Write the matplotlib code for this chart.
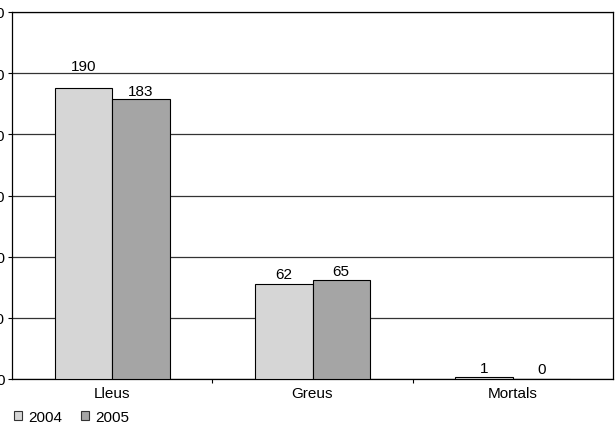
import numpy as np
import matplotlib.pyplot as plt
from matplotlib.patches import Patch

plt.rcParams['font.family'] = ['Liberation Sans', 'DejaVu Sans']

categories = ['Lleus', 'Greus', 'Mortals']
anys = ['2004', '2005']
valors2004 = [190, 62, 1]
valors2005 = [183, 65, 0]
yticks = [0, 40, 80, 120, 160, 200, 240]

colors = ['#d6d6d6', '#a5a5a5']
# desplaçament de les etiquetes (punts) sobre cada barra
offsets2004 = [11, 2, 2]
offsets2005 = [1, 1, 2]

fig = plt.figure(figsize=(6.15, 4.27), dpi=100)
ax = fig.add_axes([12/615, 47/427, 601/615, 367/427])

x = np.arange(len(categories))
ample = 0.287
b1 = ax.bar(x - ample/2, valors2004, ample, color=colors[0], edgecolor='black', linewidth=0.8, zorder=3)
b2 = ax.bar(x + ample/2, valors2005, ample, color=colors[1], edgecolor='black', linewidth=0.8, zorder=3)

for barres, valors, offs in [(b1, valors2004, offsets2004), (b2, valors2005, offsets2005)]:
    for rect, v, off in zip(barres, valors, offs):
        ax.annotate(str(v), (rect.get_x() + rect.get_width()/2, v),
                    xytext=(0, off), textcoords='offset points',
                    ha='center', va='bottom', fontsize=11)

ax.set_xlim(-0.5, 2.5)
ax.set_ylim(0, 240)
ax.set_yticks(yticks)
ax.set_yticklabels([str(t) for t in yticks], fontsize=11)
ax.yaxis.grid(True, color='#333333', linewidth=0.9, zorder=0)
ax.set_axisbelow(True)

ax.set_xticks(x)
ax.set_xticklabels(categories, fontsize=11)
ax.set_xticks([0.5, 1.5], minor=True)
ax.tick_params(axis='x', which='major', length=0, pad=5)
ax.tick_params(axis='x', which='minor', length=3, width=0.8)
ax.tick_params(axis='y', length=3, width=0.8, pad=2)

for s in ax.spines.values():
    s.set_color('black')
    s.set_linewidth(0.9)

handles = [Patch(facecolor=c, edgecolor='#333333', linewidth=0.8) for c in colors]
fig.legend(handles, anys, loc='center left', bbox_to_anchor=(14/615, 1 - 418/427),
           ncol=2, frameon=False, fontsize=11, handlelength=0.55, handleheight=0.55,
           handletextpad=0.4, columnspacing=1.2, borderaxespad=0, borderpad=0)

fig.savefig('out.png', dpi=100)
